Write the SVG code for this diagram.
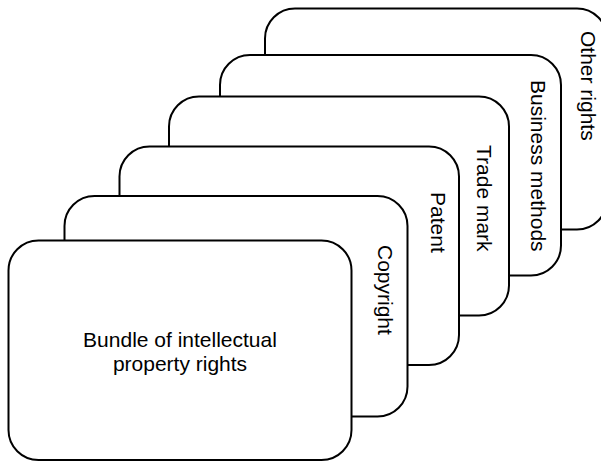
<svg xmlns="http://www.w3.org/2000/svg" width="601" height="462" viewBox="0 0 601 462">
  <style>
    .card { fill: #ffffff; stroke: #000000; stroke-width: 2; }
    .lbl { font-family: "Liberation Sans", Arial, Helvetica, sans-serif; font-size: 21px; fill: #000000; }
  </style>
  <rect x="0" y="0" width="601" height="462" fill="#ffffff"/>
  <g id="connectors"></g>
  <g id="other-rights">
    <rect class="card" x="265" y="8.5" width="342" height="221" rx="30" ry="30"/>
    <text class="lbl" transform="translate(581,31) rotate(90)">Other rights</text>
  </g>
  <g id="business-methods">
    <rect class="card" x="220" y="55" width="341" height="220.5" rx="30" ry="30"/>
    <text class="lbl" transform="translate(531,80) rotate(90)">Business methods</text>
  </g>
  <g id="trade-mark">
    <rect class="card" x="169" y="96.5" width="340" height="219" rx="30" ry="30"/>
    <text class="lbl" transform="translate(477,145) rotate(90)">Trade mark</text>
  </g>
  <g id="patent">
    <rect class="card" x="119.5" y="146.5" width="339.5" height="218.5" rx="30" ry="30"/>
    <text class="lbl" transform="translate(431,192) rotate(90)">Patent</text>
  </g>
  <g id="copyright">
    <rect class="card" x="64.5" y="196" width="343" height="220.5" rx="30" ry="30"/>
    <text class="lbl" transform="translate(378,245) rotate(90)">Copyright</text>
  </g>
  <g id="bundle">
    <rect class="card" x="8.5" y="240.5" width="343" height="219.5" rx="30" ry="30"/>
    <text class="lbl" text-anchor="middle" x="180" y="347">Bundle of intellectual</text>
    <text class="lbl" text-anchor="middle" x="180" y="371">property rights</text>
  </g>
</svg>
